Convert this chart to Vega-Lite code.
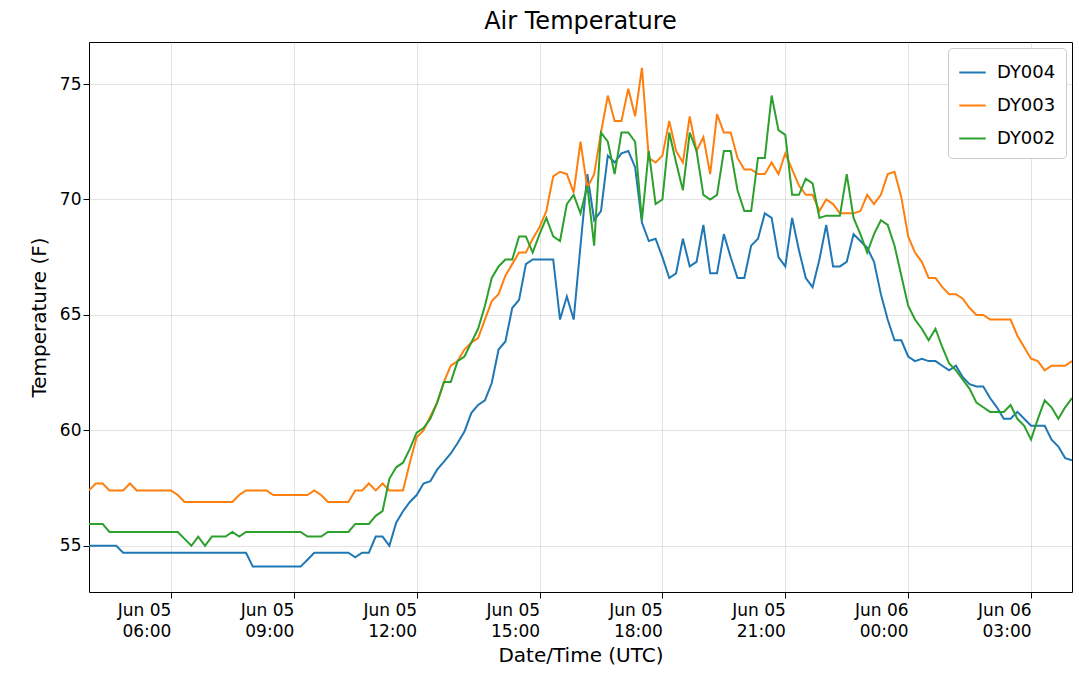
{
  "$schema": "https://vega.github.io/schema/vega-lite/v6.json",
  "autosize": {"type": "none"},
  "padding": {"left": 89, "top": 42, "right": 7, "bottom": 92},
  "width": 983,
  "height": 550,
  "background": "white",
  "title": {"text": "Air Temperature", "fontSize": 24, "fontWeight": "normal", "font": "DejaVu Sans", "color": "black", "offset": 8},
  "config": {
    "view": {"stroke": "black", "strokeWidth": 1},
    "font": "DejaVu Sans",
    "axis": {
      "labelFont": "DejaVu Sans", "titleFont": "DejaVu Sans",
      "labelFontSize": 17, "titleFontSize": 20, "titleFontWeight": "normal",
      "labelColor": "black", "titleColor": "black",
      "tickColor": "black", "tickSize": 6, "domain": false,
      "gridColor": "#b0b0b0", "gridOpacity": 0.35
    }
  },
  "data": {"values": [
    {"t":"2019-06-05T04:00:00Z","DY004":55.0,"DY003":57.4,"DY002":55.95},
    {"t":"2019-06-05T04:10:00Z","DY004":55.0,"DY003":57.7,"DY002":55.95},
    {"t":"2019-06-05T04:20:00Z","DY004":55.0,"DY003":57.7,"DY002":55.95},
    {"t":"2019-06-05T04:30:00Z","DY004":55.0,"DY003":57.4,"DY002":55.6},
    {"t":"2019-06-05T04:40:00Z","DY004":55.0,"DY003":57.4,"DY002":55.6},
    {"t":"2019-06-05T04:50:00Z","DY004":54.7,"DY003":57.4,"DY002":55.6},
    {"t":"2019-06-05T05:00:00Z","DY004":54.7,"DY003":57.7,"DY002":55.6},
    {"t":"2019-06-05T05:10:00Z","DY004":54.7,"DY003":57.4,"DY002":55.6},
    {"t":"2019-06-05T05:20:00Z","DY004":54.7,"DY003":57.4,"DY002":55.6},
    {"t":"2019-06-05T05:30:00Z","DY004":54.7,"DY003":57.4,"DY002":55.6},
    {"t":"2019-06-05T05:40:00Z","DY004":54.7,"DY003":57.4,"DY002":55.6},
    {"t":"2019-06-05T05:50:00Z","DY004":54.7,"DY003":57.4,"DY002":55.6},
    {"t":"2019-06-05T06:00:00Z","DY004":54.7,"DY003":57.4,"DY002":55.6},
    {"t":"2019-06-05T06:10:00Z","DY004":54.7,"DY003":57.2,"DY002":55.6},
    {"t":"2019-06-05T06:20:00Z","DY004":54.7,"DY003":56.9,"DY002":55.3},
    {"t":"2019-06-05T06:30:00Z","DY004":54.7,"DY003":56.9,"DY002":55.0},
    {"t":"2019-06-05T06:40:00Z","DY004":54.7,"DY003":56.9,"DY002":55.4},
    {"t":"2019-06-05T06:50:00Z","DY004":54.7,"DY003":56.9,"DY002":55.0},
    {"t":"2019-06-05T07:00:00Z","DY004":54.7,"DY003":56.9,"DY002":55.4},
    {"t":"2019-06-05T07:10:00Z","DY004":54.7,"DY003":56.9,"DY002":55.4},
    {"t":"2019-06-05T07:20:00Z","DY004":54.7,"DY003":56.9,"DY002":55.4},
    {"t":"2019-06-05T07:30:00Z","DY004":54.7,"DY003":56.9,"DY002":55.6},
    {"t":"2019-06-05T07:40:00Z","DY004":54.7,"DY003":57.2,"DY002":55.4},
    {"t":"2019-06-05T07:50:00Z","DY004":54.7,"DY003":57.4,"DY002":55.6},
    {"t":"2019-06-05T08:00:00Z","DY004":54.1,"DY003":57.4,"DY002":55.6},
    {"t":"2019-06-05T08:10:00Z","DY004":54.1,"DY003":57.4,"DY002":55.6},
    {"t":"2019-06-05T08:20:00Z","DY004":54.1,"DY003":57.4,"DY002":55.6},
    {"t":"2019-06-05T08:30:00Z","DY004":54.1,"DY003":57.2,"DY002":55.6},
    {"t":"2019-06-05T08:40:00Z","DY004":54.1,"DY003":57.2,"DY002":55.6},
    {"t":"2019-06-05T08:50:00Z","DY004":54.1,"DY003":57.2,"DY002":55.6},
    {"t":"2019-06-05T09:00:00Z","DY004":54.1,"DY003":57.2,"DY002":55.6},
    {"t":"2019-06-05T09:10:00Z","DY004":54.1,"DY003":57.2,"DY002":55.6},
    {"t":"2019-06-05T09:20:00Z","DY004":54.4,"DY003":57.2,"DY002":55.4},
    {"t":"2019-06-05T09:30:00Z","DY004":54.7,"DY003":57.4,"DY002":55.4},
    {"t":"2019-06-05T09:40:00Z","DY004":54.7,"DY003":57.2,"DY002":55.4},
    {"t":"2019-06-05T09:50:00Z","DY004":54.7,"DY003":56.9,"DY002":55.6},
    {"t":"2019-06-05T10:00:00Z","DY004":54.7,"DY003":56.9,"DY002":55.6},
    {"t":"2019-06-05T10:10:00Z","DY004":54.7,"DY003":56.9,"DY002":55.6},
    {"t":"2019-06-05T10:20:00Z","DY004":54.7,"DY003":56.9,"DY002":55.6},
    {"t":"2019-06-05T10:30:00Z","DY004":54.5,"DY003":57.4,"DY002":55.95},
    {"t":"2019-06-05T10:40:00Z","DY004":54.7,"DY003":57.4,"DY002":55.95},
    {"t":"2019-06-05T10:50:00Z","DY004":54.7,"DY003":57.7,"DY002":55.95},
    {"t":"2019-06-05T11:00:00Z","DY004":55.4,"DY003":57.4,"DY002":56.3},
    {"t":"2019-06-05T11:10:00Z","DY004":55.4,"DY003":57.7,"DY002":56.5},
    {"t":"2019-06-05T11:20:00Z","DY004":55.0,"DY003":57.4,"DY002":57.9},
    {"t":"2019-06-05T11:30:00Z","DY004":56.0,"DY003":57.4,"DY002":58.4},
    {"t":"2019-06-05T11:40:00Z","DY004":56.5,"DY003":57.4,"DY002":58.6},
    {"t":"2019-06-05T11:50:00Z","DY004":56.9,"DY003":58.6,"DY002":59.2},
    {"t":"2019-06-05T12:00:00Z","DY004":57.2,"DY003":59.7,"DY002":59.9},
    {"t":"2019-06-05T12:10:00Z","DY004":57.7,"DY003":60.0,"DY002":60.1},
    {"t":"2019-06-05T12:20:00Z","DY004":57.8,"DY003":60.6,"DY002":60.5},
    {"t":"2019-06-05T12:30:00Z","DY004":58.3,"DY003":61.2,"DY002":61.2},
    {"t":"2019-06-05T12:40:00Z","DY004":58.65,"DY003":62.1,"DY002":62.1},
    {"t":"2019-06-05T12:50:00Z","DY004":59.0,"DY003":62.8,"DY002":62.1},
    {"t":"2019-06-05T13:00:00Z","DY004":59.45,"DY003":63.0,"DY002":63.0},
    {"t":"2019-06-05T13:10:00Z","DY004":59.95,"DY003":63.5,"DY002":63.2},
    {"t":"2019-06-05T13:20:00Z","DY004":60.75,"DY003":63.8,"DY002":63.8},
    {"t":"2019-06-05T13:30:00Z","DY004":61.1,"DY003":64.0,"DY002":64.4},
    {"t":"2019-06-05T13:40:00Z","DY004":61.3,"DY003":64.8,"DY002":65.4},
    {"t":"2019-06-05T13:50:00Z","DY004":62.05,"DY003":65.6,"DY002":66.6},
    {"t":"2019-06-05T14:00:00Z","DY004":63.5,"DY003":65.9,"DY002":67.1},
    {"t":"2019-06-05T14:10:00Z","DY004":63.85,"DY003":66.7,"DY002":67.4},
    {"t":"2019-06-05T14:20:00Z","DY004":65.3,"DY003":67.2,"DY002":67.4},
    {"t":"2019-06-05T14:30:00Z","DY004":65.65,"DY003":67.7,"DY002":68.4},
    {"t":"2019-06-05T14:40:00Z","DY004":67.2,"DY003":67.7,"DY002":68.4},
    {"t":"2019-06-05T14:50:00Z","DY004":67.4,"DY003":68.3,"DY002":67.7},
    {"t":"2019-06-05T15:00:00Z","DY004":67.4,"DY003":68.8,"DY002":68.5},
    {"t":"2019-06-05T15:10:00Z","DY004":67.4,"DY003":69.5,"DY002":69.2},
    {"t":"2019-06-05T15:20:00Z","DY004":67.4,"DY003":71.0,"DY002":68.4},
    {"t":"2019-06-05T15:30:00Z","DY004":64.8,"DY003":71.2,"DY002":68.2},
    {"t":"2019-06-05T15:40:00Z","DY004":65.8,"DY003":71.1,"DY002":69.8},
    {"t":"2019-06-05T15:50:00Z","DY004":64.8,"DY003":70.3,"DY002":70.2},
    {"t":"2019-06-05T16:00:00Z","DY004":68.0,"DY003":72.5,"DY002":69.4},
    {"t":"2019-06-05T16:10:00Z","DY004":71.1,"DY003":70.5,"DY002":70.6},
    {"t":"2019-06-05T16:20:00Z","DY004":69.1,"DY003":71.1,"DY002":68.0},
    {"t":"2019-06-05T16:30:00Z","DY004":69.5,"DY003":72.9,"DY002":72.9},
    {"t":"2019-06-05T16:40:00Z","DY004":71.9,"DY003":74.5,"DY002":72.5},
    {"t":"2019-06-05T16:50:00Z","DY004":71.6,"DY003":73.4,"DY002":71.1},
    {"t":"2019-06-05T17:00:00Z","DY004":72.0,"DY003":73.4,"DY002":72.9},
    {"t":"2019-06-05T17:10:00Z","DY004":72.1,"DY003":74.8,"DY002":72.9},
    {"t":"2019-06-05T17:20:00Z","DY004":71.4,"DY003":73.6,"DY002":72.5},
    {"t":"2019-06-05T17:30:00Z","DY004":69.0,"DY003":75.7,"DY002":69.1},
    {"t":"2019-06-05T17:40:00Z","DY004":68.2,"DY003":71.8,"DY002":72.1},
    {"t":"2019-06-05T17:50:00Z","DY004":68.3,"DY003":71.6,"DY002":69.8},
    {"t":"2019-06-05T18:00:00Z","DY004":67.5,"DY003":71.9,"DY002":70.0},
    {"t":"2019-06-05T18:10:00Z","DY004":66.6,"DY003":73.4,"DY002":72.9},
    {"t":"2019-06-05T18:20:00Z","DY004":66.8,"DY003":72.1,"DY002":71.6},
    {"t":"2019-06-05T18:30:00Z","DY004":68.3,"DY003":71.6,"DY002":70.4},
    {"t":"2019-06-05T18:40:00Z","DY004":67.1,"DY003":73.6,"DY002":72.9},
    {"t":"2019-06-05T18:50:00Z","DY004":67.3,"DY003":72.1,"DY002":72.1},
    {"t":"2019-06-05T19:00:00Z","DY004":68.9,"DY003":72.7,"DY002":70.2},
    {"t":"2019-06-05T19:10:00Z","DY004":66.8,"DY003":71.1,"DY002":70.0},
    {"t":"2019-06-05T19:20:00Z","DY004":66.8,"DY003":73.7,"DY002":70.2},
    {"t":"2019-06-05T19:30:00Z","DY004":68.5,"DY003":72.9,"DY002":72.1},
    {"t":"2019-06-05T19:40:00Z","DY004":67.5,"DY003":72.9,"DY002":72.1},
    {"t":"2019-06-05T19:50:00Z","DY004":66.6,"DY003":71.8,"DY002":70.4},
    {"t":"2019-06-05T20:00:00Z","DY004":66.6,"DY003":71.3,"DY002":69.5},
    {"t":"2019-06-05T20:10:00Z","DY004":68.0,"DY003":71.3,"DY002":69.5},
    {"t":"2019-06-05T20:20:00Z","DY004":68.3,"DY003":71.1,"DY002":71.8},
    {"t":"2019-06-05T20:30:00Z","DY004":69.4,"DY003":71.1,"DY002":71.8},
    {"t":"2019-06-05T20:40:00Z","DY004":69.2,"DY003":71.6,"DY002":74.5},
    {"t":"2019-06-05T20:50:00Z","DY004":67.5,"DY003":71.1,"DY002":73.0},
    {"t":"2019-06-05T21:00:00Z","DY004":67.1,"DY003":72.0,"DY002":72.8},
    {"t":"2019-06-05T21:10:00Z","DY004":69.2,"DY003":71.3,"DY002":70.2},
    {"t":"2019-06-05T21:20:00Z","DY004":67.8,"DY003":70.6,"DY002":70.2},
    {"t":"2019-06-05T21:30:00Z","DY004":66.6,"DY003":70.2,"DY002":70.9},
    {"t":"2019-06-05T21:40:00Z","DY004":66.2,"DY003":70.2,"DY002":70.7},
    {"t":"2019-06-05T21:50:00Z","DY004":67.4,"DY003":69.5,"DY002":69.2},
    {"t":"2019-06-05T22:00:00Z","DY004":68.9,"DY003":70.0,"DY002":69.3},
    {"t":"2019-06-05T22:10:00Z","DY004":67.1,"DY003":69.8,"DY002":69.3},
    {"t":"2019-06-05T22:20:00Z","DY004":67.1,"DY003":69.4,"DY002":69.3},
    {"t":"2019-06-05T22:30:00Z","DY004":67.3,"DY003":69.4,"DY002":71.1},
    {"t":"2019-06-05T22:40:00Z","DY004":68.5,"DY003":69.4,"DY002":69.2},
    {"t":"2019-06-05T22:50:00Z","DY004":68.2,"DY003":69.5,"DY002":68.5},
    {"t":"2019-06-05T23:00:00Z","DY004":67.9,"DY003":70.2,"DY002":67.7},
    {"t":"2019-06-05T23:10:00Z","DY004":67.3,"DY003":69.8,"DY002":68.5},
    {"t":"2019-06-05T23:20:00Z","DY004":65.9,"DY003":70.2,"DY002":69.1},
    {"t":"2019-06-05T23:30:00Z","DY004":64.8,"DY003":71.1,"DY002":68.9},
    {"t":"2019-06-05T23:40:00Z","DY004":63.9,"DY003":71.2,"DY002":68.0},
    {"t":"2019-06-05T23:50:00Z","DY004":63.9,"DY003":70.1,"DY002":66.7},
    {"t":"2019-06-06T00:00:00Z","DY004":63.2,"DY003":68.4,"DY002":65.4},
    {"t":"2019-06-06T00:10:00Z","DY004":63.0,"DY003":67.7,"DY002":64.8},
    {"t":"2019-06-06T00:20:00Z","DY004":63.1,"DY003":67.3,"DY002":64.4},
    {"t":"2019-06-06T00:30:00Z","DY004":63.0,"DY003":66.6,"DY002":63.9},
    {"t":"2019-06-06T00:40:00Z","DY004":63.0,"DY003":66.6,"DY002":64.4},
    {"t":"2019-06-06T00:50:00Z","DY004":62.8,"DY003":66.2,"DY002":63.6},
    {"t":"2019-06-06T01:00:00Z","DY004":62.6,"DY003":65.9,"DY002":62.9},
    {"t":"2019-06-06T01:10:00Z","DY004":62.8,"DY003":65.9,"DY002":62.6},
    {"t":"2019-06-06T01:20:00Z","DY004":62.3,"DY003":65.7,"DY002":62.2},
    {"t":"2019-06-06T01:30:00Z","DY004":62.0,"DY003":65.3,"DY002":61.8},
    {"t":"2019-06-06T01:40:00Z","DY004":61.9,"DY003":65.0,"DY002":61.2},
    {"t":"2019-06-06T01:50:00Z","DY004":61.9,"DY003":65.0,"DY002":61.0},
    {"t":"2019-06-06T02:00:00Z","DY004":61.4,"DY003":64.8,"DY002":60.8},
    {"t":"2019-06-06T02:10:00Z","DY004":61.0,"DY003":64.8,"DY002":60.8},
    {"t":"2019-06-06T02:20:00Z","DY004":60.5,"DY003":64.8,"DY002":60.8},
    {"t":"2019-06-06T02:30:00Z","DY004":60.5,"DY003":64.8,"DY002":61.1},
    {"t":"2019-06-06T02:40:00Z","DY004":60.8,"DY003":64.1,"DY002":60.5},
    {"t":"2019-06-06T02:50:00Z","DY004":60.5,"DY003":63.6,"DY002":60.2},
    {"t":"2019-06-06T03:00:00Z","DY004":60.2,"DY003":63.1,"DY002":59.6},
    {"t":"2019-06-06T03:10:00Z","DY004":60.2,"DY003":63.0,"DY002":60.5},
    {"t":"2019-06-06T03:20:00Z","DY004":60.2,"DY003":62.6,"DY002":61.3},
    {"t":"2019-06-06T03:30:00Z","DY004":59.6,"DY003":62.8,"DY002":61.0},
    {"t":"2019-06-06T03:40:00Z","DY004":59.3,"DY003":62.8,"DY002":60.5},
    {"t":"2019-06-06T03:50:00Z","DY004":58.8,"DY003":62.8,"DY002":61.0},
    {"t":"2019-06-06T04:00:00Z","DY004":58.7,"DY003":63.0,"DY002":61.4}
  ]},
  "transform": [{"fold": ["DY004", "DY003", "DY002"], "as": ["sensor", "temp"]}],
  "mark": {"type": "line", "strokeWidth": 2, "clip": true},
  "encoding": {
    "x": {
      "field": "t", "type": "temporal", "title": "Date/Time (UTC)",
      "scale": {"type": "utc", "domain": [{"year": 2019, "month": 6, "date": 5, "hours": 4, "utc": true}, {"year": 2019, "month": 6, "date": 6, "hours": 4, "utc": true}]},
      "axis": {
        "values": [
          {"year": 2019, "month": 6, "date": 5, "hours": 6, "utc": true},
          {"year": 2019, "month": 6, "date": 5, "hours": 9, "utc": true},
          {"year": 2019, "month": 6, "date": 5, "hours": 12, "utc": true},
          {"year": 2019, "month": 6, "date": 5, "hours": 15, "utc": true},
          {"year": 2019, "month": 6, "date": 5, "hours": 18, "utc": true},
          {"year": 2019, "month": 6, "date": 5, "hours": 21, "utc": true},
          {"year": 2019, "month": 6, "date": 6, "hours": 0, "utc": true},
          {"year": 2019, "month": 6, "date": 6, "hours": 3, "utc": true}
        ],
        "labelExpr": "[utcFormat(datum.value, '%b %d'), utcFormat(datum.value, '%H:%M')]",
        "labelAlign": "right", "labelPadding": 4, "labelLineHeight": 21, "titlePadding": 6
      }
    },
    "y": {
      "field": "temp", "type": "quantitative", "title": "Temperature (F)",
      "scale": {"domain": [53.0, 76.82], "nice": false, "zero": false},
      "axis": {"values": [55, 60, 65, 70, 75], "titlePadding": 10}
    },
    "color": {
      "field": "sensor", "type": "nominal", "title": null,
      "scale": {"domain": ["DY004", "DY003", "DY002"], "range": ["#1f77b4", "#ff7f0e", "#2ca02c"]},
      "legend": {
        "orient": "top-right", "offset": 6, "padding": 10,
        "strokeColor": "#cccccc", "fillColor": "white", "cornerRadius": 4,
        "symbolType": "stroke", "symbolSize": 700, "symbolStrokeWidth": 2,
        "labelFontSize": 18, "labelFont": "DejaVu Sans", "labelColor": "black",
        "rowPadding": 9, "labelOffset": 10
      }
    }
  }
}
